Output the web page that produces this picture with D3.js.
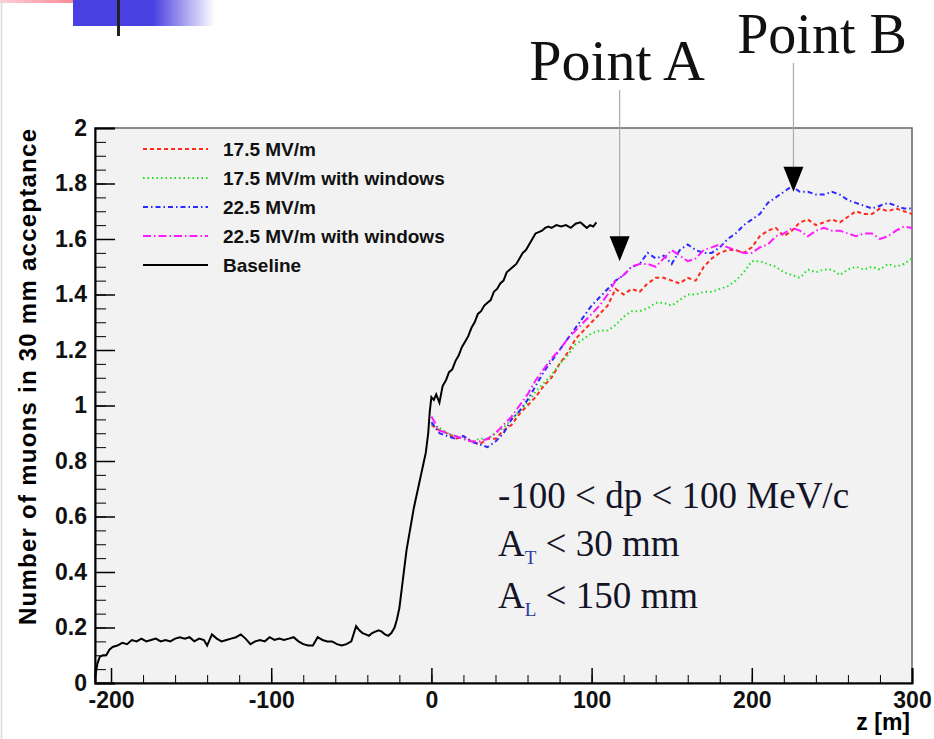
<!DOCTYPE html>
<html>
<head>
<meta charset="utf-8">
<script src="https://cdn.jsdelivr.net/npm/d3@7"></script>
<style>
  body { margin: 0; background: #fff; }
  svg { display: block; }
</style>
</head>
<body>
<svg id="chart"></svg>
<script>
// ---- data ----
var seriesNames = ["17.5 MV/m", "17.5 MV/m with windows", "22.5 MV/m", "22.5 MV/m with windows", "Baseline"];

// z positions for the four RF runs (0..300 m, step 5)
var zRuns = d3.range(0, 301, 5);

var red175 = [0.93, 0.91, 0.90, 0.88, 0.89, 0.87, 0.86, 0.88, 0.88, 0.91, 0.93, 0.97, 1.00, 1.03, 1.07, 1.10,
  1.15, 1.19, 1.24, 1.27, 1.30, 1.33, 1.36, 1.42, 1.40, 1.42, 1.41, 1.44, 1.46, 1.46, 1.45, 1.44, 1.46, 1.45,
  1.50, 1.53, 1.55, 1.56, 1.56, 1.55, 1.57, 1.61, 1.63, 1.64, 1.61, 1.63, 1.66, 1.67, 1.65, 1.66, 1.67, 1.66,
  1.68, 1.70, 1.69, 1.69, 1.71, 1.70, 1.71, 1.70, 1.69];

var green175w = [0.93, 0.92, 0.90, 0.89, 0.88, 0.87, 0.88, 0.88, 0.90, 0.92, 0.95, 0.98, 1.01, 1.05, 1.08, 1.11,
  1.15, 1.18, 1.22, 1.24, 1.26, 1.27, 1.27, 1.29, 1.32, 1.34, 1.34, 1.35, 1.37, 1.37, 1.36, 1.38, 1.40, 1.40,
  1.41, 1.41, 1.42, 1.43, 1.45, 1.48, 1.52, 1.52, 1.51, 1.50, 1.48, 1.47, 1.46, 1.49, 1.48, 1.49, 1.49, 1.47,
  1.49, 1.50, 1.49, 1.50, 1.49, 1.51, 1.50, 1.51, 1.53];

var blue225 = [0.94, 0.90, 0.89, 0.88, 0.89, 0.87, 0.86, 0.85, 0.87, 0.90, 0.95, 0.98, 1.02, 1.07, 1.12, 1.16,
  1.20, 1.24, 1.28, 1.32, 1.36, 1.39, 1.42, 1.45, 1.47, 1.50, 1.51, 1.55, 1.53, 1.54, 1.51, 1.56, 1.58, 1.56,
  1.55, 1.55, 1.57, 1.60, 1.62, 1.65, 1.67, 1.69, 1.73, 1.75, 1.77, 1.79, 1.77, 1.77, 1.76, 1.76, 1.77, 1.76,
  1.74, 1.73, 1.72, 1.71, 1.72, 1.73, 1.72, 1.71, 1.71];

var magenta225w = [0.96, 0.91, 0.90, 0.89, 0.88, 0.87, 0.87, 0.88, 0.90, 0.93, 0.96, 1.00, 1.04, 1.09, 1.13, 1.17,
  1.20, 1.24, 1.27, 1.30, 1.33, 1.36, 1.40, 1.45, 1.47, 1.50, 1.51, 1.51, 1.50, 1.53, 1.56, 1.54, 1.52, 1.53,
  1.56, 1.57, 1.58, 1.57, 1.56, 1.55, 1.55, 1.57, 1.58, 1.61, 1.62, 1.64, 1.63, 1.61, 1.63, 1.64, 1.63, 1.63,
  1.62, 1.61, 1.62, 1.62, 1.60, 1.61, 1.63, 1.645, 1.64];

// baseline lattice (-210..103 m)
var zBase = [-210, -208.5, -207, -205, -203, -201, -199, -196, -193, -190, -187, -184, -181, -178, -175, -172,
  -169, -166, -163, -160, -157, -154, -151, -148, -145, -142, -140, -137, -134, -131, -128, -125, -122, -119,
  -116, -113, -110, -107, -104, -101, -98, -95, -92, -89, -86, -83, -80, -77, -74, -71, -68, -65, -62, -59,
  -56, -53, -50, -47, -45, -43, -41, -39, -37, -35, -33, -31, -29, -27, -25, -23, -21.5, -20, -18.5, -17,
  -15.5, -14, -12.5, -11, -9.5, -8, -6.5, -5, -3.5, -2, -1, 0, 1.5, 3, 5, 7, 9, 11, 13, 15, 17, 19, 21, 23,
  25, 27, 29, 31, 33, 35, 37, 39, 41, 43, 45, 47, 49, 51, 53, 55, 57, 59, 61, 63, 65, 67, 69, 71, 73, 75,
  78, 81, 84, 87, 90, 93, 95, 97, 99, 101, 103];
var vBase = [0.02, 0.07, 0.095, 0.10, 0.10, 0.12, 0.13, 0.135, 0.145, 0.14, 0.155, 0.15, 0.16, 0.15, 0.155, 0.16,
  0.15, 0.155, 0.15, 0.16, 0.165, 0.16, 0.165, 0.15, 0.16, 0.155, 0.135, 0.175, 0.16, 0.15, 0.155, 0.16, 0.165,
  0.175, 0.16, 0.14, 0.15, 0.155, 0.15, 0.165, 0.155, 0.16, 0.155, 0.16, 0.165, 0.15, 0.14, 0.135, 0.135, 0.165,
  0.155, 0.15, 0.15, 0.14, 0.135, 0.14, 0.15, 0.205, 0.19, 0.18, 0.175, 0.17, 0.18, 0.185, 0.19, 0.185, 0.175,
  0.17, 0.18, 0.20, 0.23, 0.27, 0.34, 0.41, 0.48, 0.53, 0.58, 0.63, 0.67, 0.71, 0.75, 0.79, 0.83, 0.90, 0.98,
  1.03, 1.02, 1.04, 1.01, 1.07, 1.09, 1.12, 1.13, 1.16, 1.18, 1.21, 1.23, 1.25, 1.28, 1.30, 1.33, 1.34, 1.36,
  1.37, 1.38, 1.41, 1.42, 1.44, 1.45, 1.48, 1.49, 1.50, 1.51, 1.53, 1.55, 1.56, 1.58, 1.60, 1.62, 1.625, 1.63,
  1.64, 1.645, 1.64, 1.65, 1.645, 1.65, 1.64, 1.655, 1.66, 1.65, 1.64, 1.65, 1.645, 1.66];

var xMajorTicks = [-200, -100, 0, 100, 200, 300];
var yMajorTicks = [0, 0.2, 0.4, 0.6, 0.8, 1, 1.2, 1.4, 1.6, 1.8, 2];

// annotated points (z, value at arrow tip)
var pointLabels = ["Point A", "Point B"];
var pointZ = [117.5, 226];
var pointV = [1.52, 1.77];

// ---- drawing ----
var margin = { top: 128, right: 22, bottom: 56, left: 95 },
    width = 934 - margin.left - margin.right,
    height = 739 - margin.top - margin.bottom;

var root = d3.select("#chart")
    .attr("width", 934)
    .attr("height", 739);

// slide decoration in the top-left corner
var defs = root.append("defs");
var fade = defs.append("linearGradient").attr("id", "fadeBlue");
fade.append("stop").attr("offset", "0%").attr("stop-color", "#4a40e0");
fade.append("stop").attr("offset", "100%").attr("stop-color", "#ffffff");
var fadeRed = defs.append("linearGradient").attr("id", "fadeRed");
fadeRed.append("stop").attr("offset", "0%").attr("stop-color", "#ffd0d8");
fadeRed.append("stop").attr("offset", "100%").attr("stop-color", "#ff7080");

root.append("rect").attr("x", 0).attr("y", 0).attr("width", 100).attr("height", 3).attr("fill", "url(#fadeRed)");
root.append("rect").attr("x", 73).attr("y", 0).attr("width", 80).attr("height", 26).attr("fill", "#4840e0");
root.append("rect").attr("x", 153).attr("y", 0).attr("width", 62).attr("height", 26).attr("fill", "url(#fadeBlue)");
root.append("rect").attr("x", 117).attr("y", 0).attr("width", 3).attr("height", 36).attr("fill", "#222");
root.append("line").attr("x1", 1.5).attr("x2", 1.5).attr("y1", 0).attr("y2", 739)
    .attr("stroke", "#dcdcdc").attr("stroke-width", 1.5);

var svg = root.append("g")
    .attr("transform", "translate(" + margin.left + "," + margin.top + ")");

var x = d3.scaleLinear().domain([-210, 300]).range([0, width]);
var y = d3.scaleLinear().domain([0, 2]).range([height, 0]);

// frame
svg.append("rect")
    .attr("width", width).attr("height", height)
    .attr("fill", "#f2f2f2")
    .attr("stroke", "#666").attr("stroke-width", 1.5);

// minor ticks
svg.append("g")
    .attr("transform", "translate(0," + height + ")")
    .call(d3.axisBottom(x).tickValues(d3.range(-200, 301, 20)).tickSize(-8).tickFormat(""))
    .call(function (g) { g.select(".domain").remove(); });
svg.append("g")
    .call(d3.axisLeft(y).tickValues(d3.range(0, 2.001, 0.05)).tickSize(-11).tickFormat(""))
    .call(function (g) { g.select(".domain").remove(); });

// major ticks + labels
var xAxis = svg.append("g")
    .attr("transform", "translate(0," + height + ")")
    .call(d3.axisBottom(x).tickValues(xMajorTicks).tickSize(-15).tickPadding(9).tickFormat(d3.format("d")));
var yAxis = svg.append("g")
    .call(d3.axisLeft(y).tickValues(yMajorTicks).tickSize(-20).tickPadding(8).tickFormat(function (d) { return d3.format("")(+d.toFixed(1)); }));

[xAxis, yAxis].forEach(function (a) {
    a.select(".domain").attr("stroke", "#000").attr("stroke-width", 2);
    a.selectAll(".tick line").attr("stroke", "#000").attr("stroke-width", 1.5);
    a.selectAll("text")
        .attr("fill", "#111")
        .style("font-family", "'Liberation Sans', Arial, sans-serif")
        .style("font-weight", "bold")
        .style("font-size", "23px");
});
svg.selectAll("g .tick line").attr("stroke", "#000");
xAxis.selectAll("text").text(function (d) { return d < 0 ? "-" + Math.abs(d) : d; });

// axis titles
svg.append("text")
    .attr("x", width - 2).attr("y", height + 47)
    .attr("text-anchor", "end")
    .style("font-family", "'Liberation Sans', Arial, sans-serif")
    .style("font-weight", "bold").style("font-size", "23px")
    .text("z [m]");

root.append("text")
    .attr("transform", "translate(36,377) rotate(-90)")
    .attr("text-anchor", "middle")
    .style("font-family", "'Liberation Sans', Arial, sans-serif")
    .style("font-weight", "bold").style("font-size", "24px")
    .attr("textLength", 496)
    .text("Number of muons in 30 mm acceptance");

// curves
var styles = [
    { color: "#ff2a1a", dash: "4,3" },
    { color: "#1fe01f", dash: "1.5,3" },
    { color: "#2a2aff", dash: "5,3,1.5,3" },
    { color: "#ff1aff", dash: "8,3,1.5,3" },
    { color: "#000000", dash: null }
];
var runValues = [red175, green175w, blue225, magenta225w];

var line = d3.line()
    .x(function (d) { return x(d[0]); })
    .y(function (d) { return y(d[1]); });

svg.append("path")
    .datum(d3.zip(zBase, vBase))
    .attr("fill", "none")
    .attr("stroke", styles[4].color)
    .attr("stroke-width", 2)
    .attr("d", line);

runValues.forEach(function (vals, i) {
    svg.append("path")
        .datum(d3.zip(zRuns, vals))
        .attr("fill", "none")
        .attr("stroke", styles[i].color)
        .attr("stroke-width", 2)
        .attr("stroke-dasharray", styles[i].dash)
        .attr("d", line);
});

// legend
var legend = svg.selectAll(".legend")
    .data(seriesNames)
    .enter().append("g")
    .attr("transform", function (d, i) { return "translate(48," + (21 + i * 29) + ")"; });
legend.append("line")
    .attr("x1", 0).attr("x2", 65)
    .attr("stroke", function (d, i) { return styles[i].color; })
    .attr("stroke-width", 2)
    .attr("stroke-dasharray", function (d, i) { return styles[i].dash; });
legend.append("text")
    .attr("x", 80).attr("dy", "0.36em")
    .style("font-family", "'Liberation Sans', Arial, sans-serif")
    .style("font-weight", "bold").style("font-size", "19px")
    .attr("fill", "#111")
    .text(function (d) { return d; });

// point markers with arrows
var textTop = [80, 53];
var textX = [617, 822];
var textSize = [58, 56];
pointLabels.forEach(function (lbl, i) {
    var px = x(pointZ[i]), py = y(pointV[i]);
    svg.append("line")
        .attr("x1", px).attr("x2", px)
        .attr("y1", textTop[i] + 10 - margin.top).attr("y2", py - 24)
        .attr("stroke", "#aaa").attr("stroke-width", 1.2);
    svg.append("path")
        .attr("d", "M" + (px - 10) + "," + (py - 25) + "L" + (px + 10) + "," + (py - 25) + "L" + px + "," + py + "Z")
        .attr("fill", "#000");
    svg.append("text")
        .attr("x", textX[i] - margin.left).attr("y", textTop[i] - margin.top)
        .attr("text-anchor", "middle")
        .style("font-family", "'Liberation Serif', 'Times New Roman', serif")
        .style("font-size", textSize[i] + "px")
        .attr("fill", "#111")
        .text(lbl);
});

// cut text box
var cuts = svg.append("text")
    .attr("x", 403)
    .style("font-family", "'Liberation Serif', 'Times New Roman', serif")
    .style("font-size", "37px")
    .attr("fill", "#141428");
cuts.append("tspan").attr("x", 403).attr("y", 508 - margin.top).text("-100 < dp < 100 MeV/c");
cuts.append("tspan").attr("x", 403).attr("y", 556 - margin.top).text("A");
cuts.append("tspan").attr("dy", 8).style("font-size", "19px").attr("fill", "#2a3aa0").text("T");
cuts.append("tspan").attr("dy", -8).text(" < 30 mm");
cuts.append("tspan").attr("x", 403).attr("y", 608 - margin.top).text("A");
cuts.append("tspan").attr("dy", 8).style("font-size", "19px").attr("fill", "#2a3aa0").text("L");
cuts.append("tspan").attr("dy", -8).text(" < 150 mm");
</script>
</body>
</html>
